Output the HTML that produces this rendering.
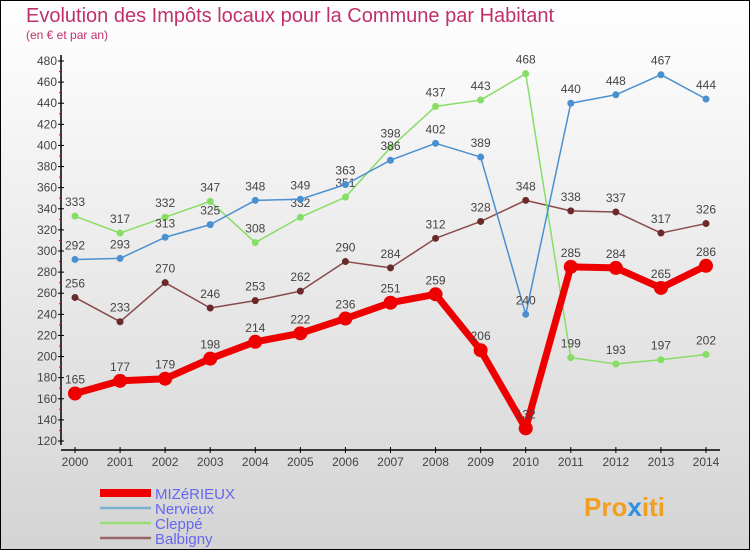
<!DOCTYPE html>
<html><head><meta charset="utf-8"><style>
html,body{margin:0;padding:0}
body{width:750px;height:550px;overflow:hidden;font-family:"Liberation Sans",sans-serif}
</style></head><body>
<svg id="chart" width="750" height="550" xmlns="http://www.w3.org/2000/svg">
<defs><linearGradient id="bg" x1="0" y1="0" x2="0" y2="1"><stop offset="0" stop-color="#ffffff"/><stop offset="1" stop-color="#d4d4d4"/></linearGradient></defs>
<rect x="0.5" y="0.5" width="749" height="549" fill="url(#bg)" stroke="#000" stroke-width="1"/>
<text x="26" y="22" font-size="20" fill="#c0306a">Evolution des Impôts locaux pour la Commune par Habitant</text>
<text x="26" y="39" font-size="12" fill="#c0306a">(en € et par an)</text>
<g id="axes"></g>
<g id="series"></g>
<g id="legend"></g>
<text x="584" y="516" font-size="26" font-weight="bold" fill="#f0a020">Pro<tspan fill="#3090e0">x</tspan>iti</text>
</svg>
<script>
const years=[2000,2001,2002,2003,2004,2005,2006,2007,2008,2009,2010,2011,2012,2013,2014];
const yTicks=[120,140,160,180,200,220,240,260,280,300,320,340,360,380,400,420,440,460,480];
const seriesNames=["MIZéRIEUX","Nervieux","Cleppé","Balbigny"];
const mizerieux=[165,177,179,198,214,222,236,251,259,206,132,285,284,265,286];
const nervieux=[292,293,313,325,348,349,363,386,402,389,240,440,448,467,444];
const cleppe=[333,317,332,347,308,332,351,398,437,443,468,199,193,197,202];
const balbigny=[256,233,270,246,253,262,290,284,312,328,348,338,337,317,326];
const NS="http://www.w3.org/2000/svg";
function X(i){return 75+i*(706-75)/(years.length-1);}
function Y(v){return 441-(v-120)*(441-61)/360;}
function mk(tag,attrs,parent,txt){const e=document.createElementNS(NS,tag);for(const k in attrs)e.setAttribute(k,attrs[k]);if(txt!==undefined)e.textContent=txt;parent.appendChild(e);return e;}
const ax=document.getElementById('axes');
let e=mk('line',{x1:61,y1:55,x2:61,y2:445,stroke:'#000','stroke-width':1.5},ax);


e=mk('line',{x1:61,y1:450,x2:720,y2:450,stroke:'#000','stroke-width':1.5},ax);


yTicks.forEach(v=>{
  mk('line',{x1:58,y1:Y(v),x2:64,y2:Y(v),stroke:'#000'},ax);
  if(v<480) mk('line',{x1:59,y1:Y(v+10),x2:61,y2:Y(v+10),stroke:'#e00'},ax);
  const t=mk('text',{x:57,y:Y(v)+4,'font-size':12,fill:'#444','text-anchor':'end'},ax,v);
  
  
});
years.forEach((y,i)=>{
  mk('line',{x1:X(i),y1:447,x2:X(i),y2:453,stroke:'#000'},ax);
  const t=mk('text',{x:X(i),y:466,'font-size':12,fill:'#444','text-anchor':'middle'},ax,y);
  
  
});
const sg=document.getElementById('series');
const defs=[[balbigny,'#6b2a2a','#8a4a4a',1.5,3.5,'balbigny'],[cleppe,'#88dd66','#88dd66',1.5,3.5,'cleppe'],[nervieux,'#4a90d0','#4a90d0',1.5,3.5,'nervieux'],[mizerieux,'#ee0000','#ee0000',7,7,'mizerieux']];
defs.forEach(([d,c,lc,w,r,n])=>{
  const g=mk('g',{},sg);
  
  
  const p=mk('polyline',{points:d.map((v,i)=>X(i)+','+Y(v)).join(' '),fill:'none',stroke:lc,'stroke-width':w,'stroke-linejoin':'round'},g);
  
  
  d.forEach((v,i)=>{
    const pt=mk('circle',{cx:X(i),cy:Y(v),r:r,fill:c},g);
    
    
    const lbl=mk('text',{x:X(i),y:Y(v)-10,'font-size':12,fill:'#444','text-anchor':'middle'},g,v);
    
    
  });
});
const lg=document.getElementById('legend');
const lcol=['#ee0000','#7ab0d0','#99dd77','#996666'],lw=[8,2.5,2.5,2.5];
seriesNames.forEach((s,i)=>{
  const yy=493+i*15;
  const it=mk('g',{},lg);
  
  
  mk('line',{x1:100,y1:yy,x2:151,y2:yy,stroke:lcol[i],'stroke-width':lw[i]},it);
  mk('text',{x:155,y:yy+6,'font-size':15,fill:'#6666ee'},it,s);
});
</script>
</body></html>
